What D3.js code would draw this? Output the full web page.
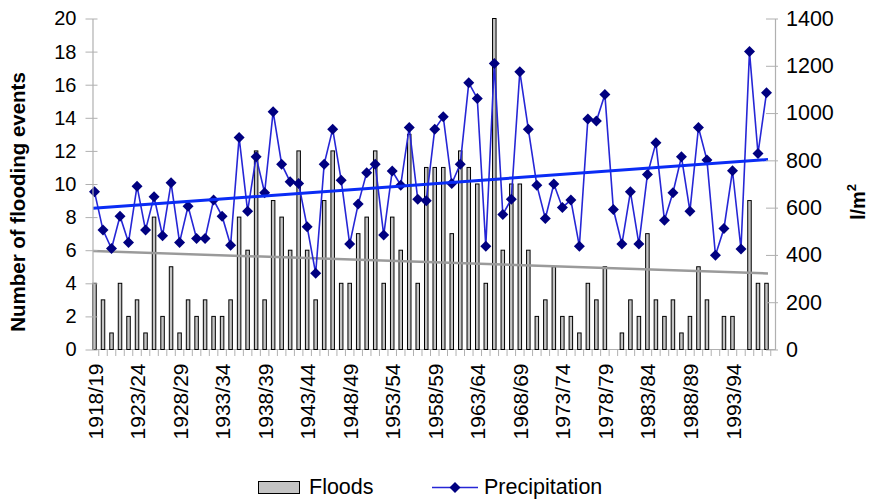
<!DOCTYPE html>
<html>
<head>
<meta charset="utf-8">
<script src="https://cdnjs.cloudflare.com/ajax/libs/d3/7.8.5/d3.min.js"></script>
<style>
  body { margin: 0; background: #fff; }
  svg { display: block; font-family: "Liberation Sans", Arial, Helvetica, sans-serif; }
</style>
</head>
<body>
<svg id="chart" width="870" height="499"></svg>
<script>
// hydrological seasons 1918/19 .. 1997/98
var seasons = d3.range(1918, 1998).map(function (y) { return y + "/" + String(y + 1).slice(2); });

var floods = [4, 3, 1, 4, 2, 3, 1, 8, 2, 5, 1,
              3, 2, 3, 2, 2, 3, 8, 6, 12, 3, 9, 8,
              6, 12, 6, 3, 9, 12, 4, 4, 7, 8, 12,
              4, 8, 6, 13, 4, 11, 11,
              11, 7, 12, 11, 10, 4, 20, 6, 10, 10, 6, 2, 3, 5, 2, 2, 1, 4, 3, 5, 0, 1, 3, 2,
              7, 3, 2, 3, 1, 2, 5, 3, 0, 2, 2, 0, 9, 4, 4];

var precipitation = [667, 505, 427, 564, 453, 691, 505, 646, 481, 705, 453,
                     606, 470, 470, 632, 564, 441, 897, 585, 815, 663, 1006, 784,
                     709, 702, 519, 322, 784, 932, 716, 446, 615, 748, 784,
                     484, 755, 695, 939, 636, 629, 932, 984, 702, 784, 1128,
                     1062, 437, 1210, 571, 636, 1175, 932, 695, 554, 700, 601, 632,
                     437, 975, 966, 1079, 592, 446, 667, 446, 740, 874, 547, 663,
                     815, 585, 939, 801, 399, 512, 756, 425, 1260, 829, 1086];

var xTickLabels = ["1918/19", "1923/24", "1928/29", "1933/34", "1938/39", "1943/44", "1948/49", "1953/54",
                   "1958/59", "1963/64", "1968/69", "1973/74", "1978/79", "1983/84", "1988/89", "1993/94"];
var floodTicks = [0, 2, 4, 6, 8, 10, 12, 14, 16, 18, 20];
var precipTicks = [0, 200, 400, 600, 800, 1000, 1200, 1400];

var svg = d3.select("#chart");

var x = d3.scalePoint().domain(seasons).range([94.5, 766.5]);
var step = x.step();
var yL = d3.scaleLinear().domain([0, 20]).range([349.5, 18.5]);
var yR = d3.scaleLinear().domain([0, 1400]).range([349.5, 18.5]);

// least squares trend
function trend(vals) {
  var n = vals.length, mx = (n - 1) / 2, my = d3.mean(vals), sxy = 0, sxx = 0;
  vals.forEach(function (v, i) { sxy += (i - mx) * (v - my); sxx += (i - mx) * (i - mx); });
  var b = sxy / sxx, a = my - b * mx;
  return [a, a + b * (n - 1)];
}

// bottom axis line + category ticks
svg.append("line")
  .attr("x1", 92.5).attr("x2", 775).attr("y1", 349.5).attr("y2", 349.5)
  .attr("stroke", "#b0b0b0").attr("stroke-width", 1.2);

svg.append("g").selectAll("line")
  .data(seasons)
  .enter().append("line")
  .attr("x1", d => x(d) + step / 2).attr("x2", d => x(d) + step / 2)
  .attr("y1", 349.5).attr("y2", 356)
  .attr("stroke", "#b0b0b0");

// bars
svg.append("g").selectAll("rect")
  .data(floods)
  .enter().append("rect")
  .attr("x", (d, i) => x(seasons[i]) - 1.75)
  .attr("width", 3.5)
  .attr("y", d => yL(d))
  .attr("height", d => yL(0) - yL(d))
  .attr("fill", "#c4c4c4")
  .attr("stroke", d => d > 0 ? "#000" : "none")
  .attr("stroke-width", 1);

// flood trend
var tf = trend(floods);
svg.append("line")
  .attr("x1", x(seasons[0]) - 1.5).attr("x2", x(seasons[seasons.length - 1]) + 1.5)
  .attr("y1", yL(tf[0])).attr("y2", yL(tf[1]))
  .attr("stroke", "#9a9a9a").attr("stroke-width", 2.5);

// precipitation line
svg.append("path")
  .datum(precipitation)
  .attr("d", d3.line().x((d, i) => x(seasons[i])).y(d => yR(d)))
  .attr("fill", "none")
  .attr("stroke", "#2626d6")
  .attr("stroke-width", 1.6);

var diamond = "M0,-5.5L5.5,0L0,5.5L-5.5,0Z";
svg.append("g").selectAll("path")
  .data(precipitation)
  .enter().append("path")
  .attr("d", diamond)
  .attr("transform", (d, i) => "translate(" + x(seasons[i]) + "," + yR(d) + ")")
  .attr("fill", "#000080");

// precipitation trend
var tp = trend(precipitation);
svg.append("line")
  .attr("x1", x(seasons[0]) - 1.5).attr("x2", x(seasons[seasons.length - 1]) + 1.5)
  .attr("y1", yR(tp[0])).attr("y2", yR(tp[1]))
  .attr("stroke", "#0a2cf5").attr("stroke-width", 3);

// left axis
var gL = svg.append("g")
  .attr("transform", "translate(92.5,0)")
  .call(d3.axisLeft(yL).tickValues(floodTicks).tickSizeInner(7).tickSizeOuter(0).tickPadding(9));
gL.select(".domain").attr("stroke", "#b0b0b0").attr("stroke-width", 1.2);
gL.selectAll(".tick line").attr("x1", 5).attr("stroke", "#b0b0b0");
gL.selectAll(".tick text").attr("font-size", 20).attr("font-family", null).attr("fill", "#000");

// right axis
var gR = svg.append("g")
  .attr("transform", "translate(775,0)")
  .call(d3.axisRight(yR).tickValues(precipTicks).tickFormat(d3.format("d"))
    .tickSizeInner(3).tickSizeOuter(0).tickPadding(8));
gR.select(".domain").attr("stroke", "#b0b0b0").attr("stroke-width", 1.2);
gR.selectAll(".tick line").attr("x1", -9).attr("stroke", "#b0b0b0");
gR.selectAll(".tick text").attr("font-size", 21.5).attr("font-family", null).attr("fill", "#000");

// x labels
var gX = svg.append("g")
  .attr("transform", "translate(0,349.5)")
  .call(d3.axisBottom(x).tickValues(xTickLabels).tickSize(0));
gX.select(".domain").remove();
gX.selectAll(".tick text")
  .attr("font-size", 21).attr("font-family", null).attr("fill", "#000")
  .attr("transform", "rotate(-90)")
  .attr("text-anchor", "end")
  .attr("x", -14).attr("y", 0).attr("dy", "0.36em");

// axis titles
svg.append("text")
  .attr("transform", "translate(25,202) rotate(-90)")
  .attr("text-anchor", "middle")
  .attr("font-size", 20.5).attr("font-weight", "bold")
  .text("Number of flooding events");

var rt = svg.append("text")
  .attr("transform", "translate(865,202) rotate(-90)")
  .attr("text-anchor", "middle")
  .attr("font-size", 20).attr("font-weight", "bold");
rt.append("tspan").text("l/m");
rt.append("tspan").attr("font-size", 13).attr("dy", -9).text("2");

// legend
svg.append("rect")
  .attr("x", 258.5).attr("y", 481.5).attr("width", 41).attr("height", 12)
  .attr("fill", "#c4c4c4").attr("stroke", "#000");
svg.append("text").attr("x", 309).attr("y", 494).attr("font-size", 21.5).text("Floods");

svg.append("line")
  .attr("x1", 432).attr("x2", 478).attr("y1", 487.5).attr("y2", 487.5)
  .attr("stroke", "#2626d6").attr("stroke-width", 1.6);
svg.append("path").attr("d", diamond).attr("transform", "translate(455,487.5)").attr("fill", "#000080");
svg.append("text").attr("x", 484).attr("y", 494).attr("font-size", 21.5).text("Precipitation");
</script>
</body>
</html>
